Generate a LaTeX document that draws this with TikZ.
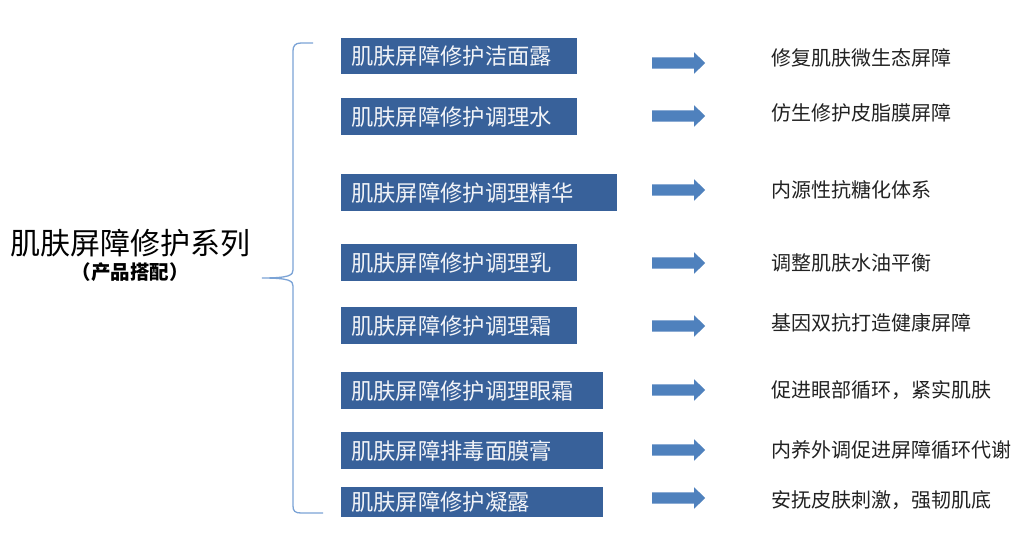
\documentclass[tikz,border=0pt]{standalone}
\usepackage{fontspec}
\setmainfont{Noto Sans CJK SC}
\newfontfamily\cjk{Noto Sans CJK SC}
\usetikzlibrary{shapes.arrows}
\definecolor{boxblue}{HTML}{38619A}
\definecolor{arrowblue}{HTML}{4F81BD}
\definecolor{bracecol}{HTML}{7BA3D6}
\definecolor{boxtext}{HTML}{F2F4F8}
\definecolor{desctext}{HTML}{222222}
\begin{document}
\begin{tikzpicture}[x=1pt,y=-1pt,
  prod/.style={fill=boxblue, text=boxtext, anchor=north west, inner xsep=10pt, inner ysep=0pt,
    align=left, font=\cjk\fontsize{22.3}{24}\selectfont},
  blockarrow/.style={single arrow, fill=arrowblue, draw=none, inner sep=0pt,
    minimum height=53pt, single arrow head extend=5pt,
    single arrow tip angle=88, anchor=west},
  desc/.style={anchor=west, inner sep=0pt, text=desctext, font=\cjk\fontsize{20}{22}\selectfont},
  brace/.style={draw=bracecol, line width=1.3pt}]
\useasboundingbox (0,0) rectangle (1036,545);
\fill[white] (0,0) rectangle (1036,545);

% title
\node[inner sep=0pt, font=\cjk\fontsize{30}{32}\selectfont] (title) at (130,243) {肌肤屏障修护系列};
\node[inner sep=0pt, font=\cjk\bfseries\fontsize{19.5}{21}\selectfont] (sub) at (130,272) {（产品搭配）};

% brace
\coordinate (btop) at (313,43);
\coordinate (btip) at (262,278);
\coordinate (bbot) at (323,513);
\draw[brace] (btop) -- (301,43) .. controls (295,43) and (293,46) .. (293,51)
  -- (293,270) .. controls (293,275) and (290,278) .. (btip)
  .. controls (290,278) and (293,281) .. (293,286)
  -- (293,506) .. controls (293,511) and (295,513) .. (301,513) -- (bbot);

% product boxes
\node[prod, text width=216pt, minimum height=36pt] (b1) at (341,38) {肌肤屏障修护洁面露};
\node[prod, text width=216pt, minimum height=37pt] (b2) at (341,98) {肌肤屏障修护调理水};
\node[prod, text width=256pt, minimum height=37pt] (b3) at (341,174) {肌肤屏障修护调理精华};
\node[prod, text width=216pt, minimum height=37pt] (b4) at (341,244) {肌肤屏障修护调理乳};
\node[prod, text width=216pt, minimum height=37pt] (b5) at (341,307) {肌肤屏障修护调理霜};
\node[prod, text width=242pt, minimum height=37pt] (b6) at (341,372) {肌肤屏障修护调理眼霜};
\node[prod, text width=242pt, minimum height=37pt] (b7) at (341,432) {肌肤屏障排毒面膜膏};
\node[prod, text width=242pt, minimum height=30pt] (b8) at (341,487) {肌肤屏障修护凝露};

% arrows
\node[blockarrow] (a1) at (652,63) {\rule{0pt}{11pt}};
\node[blockarrow] (a2) at (652,116) {\rule{0pt}{11pt}};
\node[blockarrow] (a3) at (652,190) {\rule{0pt}{11pt}};
\node[blockarrow] (a4) at (652,263) {\rule{0pt}{11pt}};
\node[blockarrow] (a5) at (652,326) {\rule{0pt}{11pt}};
\node[blockarrow] (a6) at (652,390) {\rule{0pt}{11pt}};
\node[blockarrow] (a7) at (652,450) {\rule{0pt}{11pt}};
\node[blockarrow] (a8) at (652,498) {\rule{0pt}{11pt}};

% descriptions
\node[desc] (r1) at (771,58) {修复肌肤微生态屏障};
\node[desc] (r2) at (771,113) {仿生修护皮脂膜屏障};
\node[desc] (r3) at (771,190) {内源性抗糖化体系};
\node[desc] (r4) at (771,263) {调整肌肤水油平衡};
\node[desc] (r5) at (771,323) {基因双抗打造健康屏障};
\node[desc] (r6) at (771,390) {促进眼部循环，紧实肌肤};
\node[desc] (r7) at (771,450) {内养外调促进屏障循环代谢};
\node[desc] (r8) at (771,500) {安抚皮肤刺激，强韧肌底};
\end{tikzpicture}
\end{document}
